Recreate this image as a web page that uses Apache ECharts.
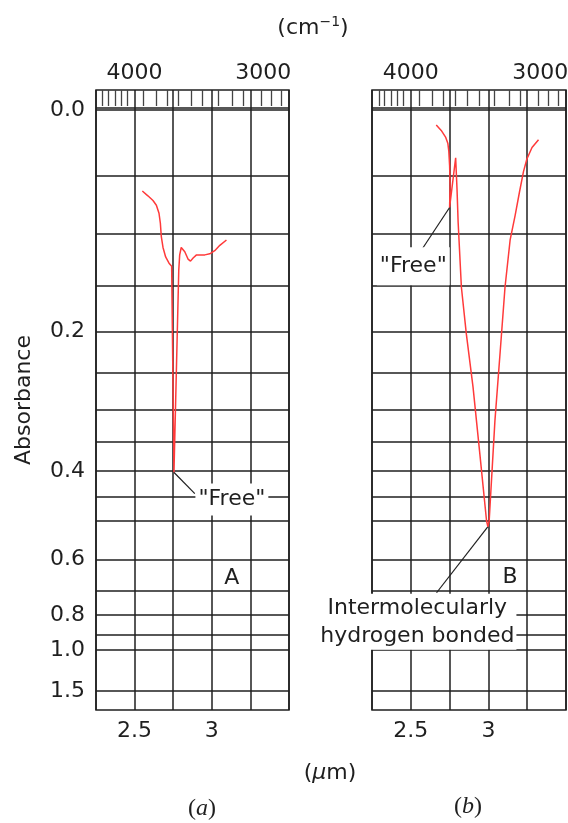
<!DOCTYPE html>
<html>
<head>
<meta charset="utf-8">
<script src="https://cdn.jsdelivr.net/npm/echarts@6/dist/echarts.min.js"></script>
<style>
  html, body { margin: 0; padding: 0; background: #ffffff; }
  #chart { width: 568px; height: 823px; }
</style>
</head>
<body>
<div id="chart"></div>
<script>
// ---------- data (x in micrometres, y in absorbance) ----------
const gridAbsorbance = [0, 0.05, 0.1, 0.15, 0.2, 0.25, 0.3, 0.35, 0.4, 0.45, 0.5, 0.6, 0.7, 0.8, 0.9, 1.0, 1.5];
const absorbanceLabels = [0, 0.2, 0.4, 0.6, 0.8, 1.0, 1.5];
const micronLabels = [2.5, 3];
const wavenumberLabels = [4000, 3000];
const wavenumberTicks = [4360, 4290, 4210, 4140, 4080, 3910, 3790, 3690, 3590, 3490, 3400, 3290, 3190, 3120, 3010, 2955, 2900];

const curveA_um = [2.550, 2.586, 2.619, 2.641, 2.658, 2.667, 2.673, 2.684, 2.701, 2.723, 2.740, 2.755, 2.786, 2.792, 2.802, 2.812, 2.825, 2.846, 2.862, 2.879, 2.901, 2.955, 2.987, 3.019, 3.052, 3.095];
const curveA_abs = [0.063, 0.067, 0.071, 0.075, 0.082, 0.091, 0.103, 0.113, 0.122, 0.128, 0.131, 0.402, 0.135, 0.120, 0.113, 0.113, 0.117, 0.124, 0.126, 0.123, 0.120, 0.120, 0.119, 0.116, 0.111, 0.106];

const curveB_um = [2.664, 2.696, 2.724, 2.739, 2.745, 2.750, 2.753, 2.750, 2.789, 2.798, 2.805, 2.826, 2.858, 2.901, 2.945, 2.988, 2.997, 3.005, 3.042, 3.075, 3.107, 3.140, 3.172, 3.200, 3.226, 3.248, 3.281, 3.323];
const curveB_abs = [0.011, 0.015, 0.020, 0.025, 0.031, 0.042, 0.058, 0.077, 0.036, 0.062, 0.090, 0.152, 0.203, 0.269, 0.370, 0.501, 0.515, 0.501, 0.317, 0.226, 0.152, 0.106, 0.084, 0.064, 0.047, 0.037, 0.028, 0.022];

// annotations (data coordinates: micrometres, absorbance)
const leaderA_free = [[2.754, 0.402], [2.890, 0.443]];
const leaderB_free = [[2.750, 0.077], [2.568, 0.1156]];
const leaderB_hbond = [[2.997, 0.515], [2.666, 0.709]];
const labelA_free = { text: '"Free"', at: [3.130, 0.455] };
const labelA_name = { text: 'A', at: [3.130, 0.657] };
const labelB_free = { text: '"Free"', at: [2.516, 0.131] };
const labelB_hbond = { text: 'Intermolecularly\nhydrogen bonded', at: [2.542, 0.833] };
const labelB_name = { text: 'B', at: [3.140, 0.655] };

// ---------- helpers ----------
// vertical scale of the chart paper is linear in transmittance
const toV = a => 1 - Math.pow(10, -a);
const pair = (um, ab) => um.map((x, i) => [x, toV(ab[i])]);
const FONT = 'DejaVu Sans';
const INK = '#1f1f1f';
const RED = '#ff3a3a';
const STRIP_EDGE = -0.004;

const chart = echarts.init(document.getElementById('chart'), null, { renderer: 'canvas' });

function bottomAxis(gridIndex) {
  return {
    type: 'value', gridIndex, position: 'bottom',
    min: 2.25, max: 3.5, interval: 0.25,
    axisLine: { show: false }, axisTick: { show: false },
    splitLine: { show: true, lineStyle: { color: INK, width: 1.5 } },
    axisLabel: {
      customValues: micronLabels, fontFamily: FONT, fontSize: 22, color: INK, margin: 10,
      formatter: v => String(Math.round(v * 100) / 100)
    }
  };
}
function topAxis(gridIndex) {
  return {
    type: 'value', gridIndex, position: 'top',
    min: 2.25, max: 3.5,
    axisLine: { show: false },
    axisTick: { show: true, inside: true, length: 16, customValues: wavenumberTicks.map(w => 1e4 / w),
      lineStyle: { color: '#444', width: 1.3 } },
    splitLine: { show: false },
    axisLabel: {
      customValues: wavenumberLabels.map(w => 1e4 / w), fontFamily: FONT, fontSize: 22, color: INK, margin: 6,
      formatter: v => String(Math.round(1e4 / v / 10) * 10)
    }
  };
}
function yAxis(gridIndex, showLabels) {
  return {
    type: 'value', gridIndex, inverse: true,
    min: -0.0334, max: 1.0,
    axisLine: { show: false },
    axisTick: { show: false, customValues: [STRIP_EDGE].concat(gridAbsorbance.map(toV)) },
    splitLine: { show: true, lineStyle: { color: INK, width: 1.5 } },
    axisLabel: {
      show: showLabels, customValues: absorbanceLabels.map(toV),
      fontFamily: FONT, fontSize: 22, color: INK, margin: 11,
      formatter: v => Math.abs(-Math.log10(1 - v)).toFixed(1)
    }
  };
}
function labelSeries(xi, yi, items, z) {
  return {
    type: 'scatter', xAxisIndex: xi, yAxisIndex: yi, z: z || 5, silent: true,
    symbolSize: 1, itemStyle: { color: 'rgba(0,0,0,0)', opacity: 1 },
    data: items.map(it => ({
      value: [it.at[0], toV(it.at[1])],
      label: {
        show: true, position: 'inside', formatter: it.text, opacity: 1,
        fontFamily: FONT, fontSize: 22, color: INK, lineHeight: it.lh || 24,
        textBorderWidth: 0,
        backgroundColor: it.bg === false ? 'transparent' : '#ffffff',
        padding: it.pad || [4, 3]
      }
    }))
  };
}
function lineSeries(xi, yi, data, color, width, z) {
  return {
    type: 'line', xAxisIndex: xi, yAxisIndex: yi, data, z: z || 3, silent: true,
    showSymbol: false, symbol: 'none', animation: false,
    lineStyle: { color, width }
  };
}

labelA_name.bg = false; labelB_name.bg = false;
labelB_hbond.lh = 28; labelB_hbond.pad = [0, 2];
labelB_free.pad = [7, 3];

const option = {
  backgroundColor: '#ffffff',
  animation: false,
  grid: [
    { left: 96, top: 90, width: 193, height: 620, show: true, borderColor: INK, borderWidth: 1.5, backgroundColor: 'transparent', containLabel: false, outerBoundsMode: 'none' },
    { left: 372, top: 90, width: 194, height: 620, show: true, borderColor: INK, borderWidth: 1.5, backgroundColor: 'transparent', containLabel: false, outerBoundsMode: 'none' }
  ],
  xAxis: [bottomAxis(0), topAxis(0), bottomAxis(1), topAxis(1)],
  yAxis: [yAxis(0, true), yAxis(1, false)],
  series: [
    lineSeries(0, 0, pair(curveA_um, curveA_abs), RED, 1.5, 4),
    lineSeries(2, 1, pair(curveB_um, curveB_abs), RED, 1.5, 4),
    lineSeries(0, 0, leaderA_free.map(p => [p[0], toV(p[1])]), INK, 1.2, 3),
    lineSeries(2, 1, leaderB_free.map(p => [p[0], toV(p[1])]), INK, 1.2, 3),
    lineSeries(2, 1, leaderB_hbond.map(p => [p[0], toV(p[1])]), INK, 1.2, 3),
    labelSeries(0, 0, [labelA_free, labelA_name]),
    labelSeries(2, 1, [labelB_free, labelB_hbond, labelB_name])
  ],
  graphic: [
    { type: 'text', x: 313, y: 28, style: {
        text: '{a|(cm}{s|−1}{a|)}', align: 'center', verticalAlign: 'middle',
        rich: { a: { fontFamily: FONT, fontSize: 22, fill: INK, lineHeight: 26 },
                s: { fontFamily: FONT, fontSize: 14, fill: INK, lineHeight: 26, padding: [0, 0, 12, 0] } } } },
    { type: 'text', x: 24, y: 400, rotation: Math.PI / 2, style: {
        text: 'Absorbance', align: 'center', verticalAlign: 'middle', fontFamily: FONT, fontSize: 22, fill: INK } },
    { type: 'text', x: 330, y: 773, style: {
        text: '{a|(}{i|μ}{a|m)}', align: 'center', verticalAlign: 'middle',
        rich: { a: { fontFamily: FONT, fontSize: 22, fill: INK }, i: { fontFamily: FONT, fontSize: 22, fontStyle: 'italic', fill: INK } } } },
    { type: 'text', x: 202, y: 809, style: {
        text: '{a|(}{i|a}{a|)}', align: 'center', verticalAlign: 'middle',
        rich: { a: { fontFamily: 'Liberation Serif', fontSize: 24, fill: INK }, i: { fontFamily: 'Liberation Serif', fontSize: 24, fontStyle: 'italic', fill: INK } } } },
    { type: 'text', x: 468, y: 807, style: {
        text: '{a|(}{i|b}{a|)}', align: 'center', verticalAlign: 'middle',
        rich: { a: { fontFamily: 'Liberation Serif', fontSize: 24, fill: INK }, i: { fontFamily: 'Liberation Serif', fontSize: 24, fontStyle: 'italic', fill: INK } } } }
  ]
};
chart.setOption(option);
</script>
</body>
</html>
